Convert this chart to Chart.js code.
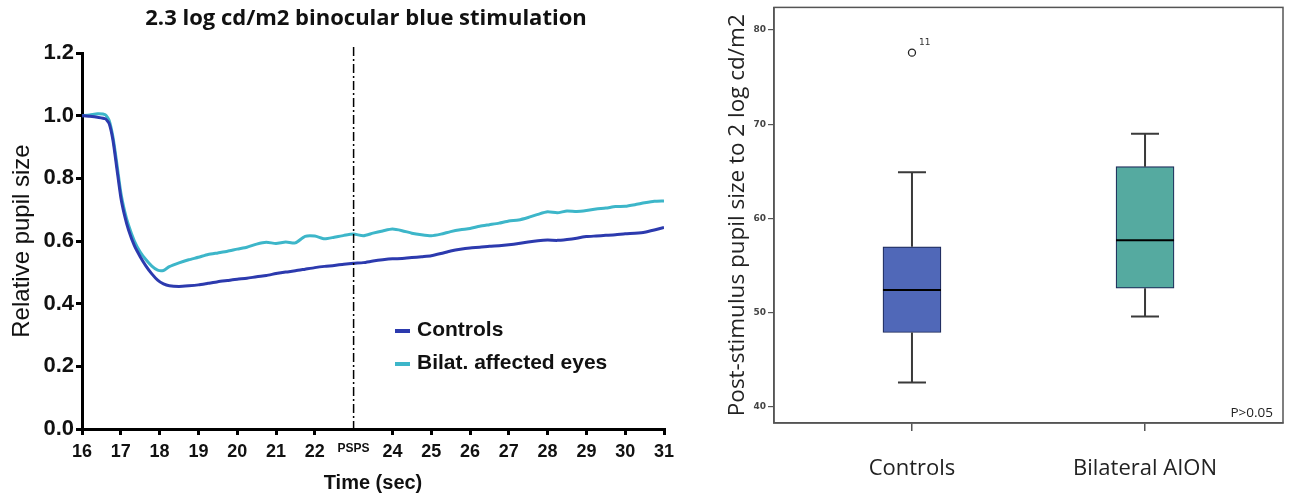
<!DOCTYPE html>
<html>
<head>
<meta charset="utf-8">
<script src="https://cdn.jsdelivr.net/npm/chart.js@4.4.0/dist/chart.umd.min.js"></script>
<style>
    body { margin: 0; background: #fff; }
    #left { position: absolute; left: 0; top: 0; width: 690px; height: 497px; }
    #right { position: absolute; left: 690px; top: 0; width: 600px; height: 497px; }
</style>
</head>
<body>
<div id="left"><canvas id="pupilChart"></canvas></div>
<div id="right"><canvas id="boxChart"></canvas></div>
<script>
// Left: pupil response over time
const times = [16.0, 16.2, 16.4, 16.6, 16.7, 16.8, 16.9, 17.0, 17.1, 17.2, 17.35, 17.5, 17.65, 17.8, 17.95, 18.1, 18.25,
    18.5, 18.75, 19.0, 19.25, 19.5, 19.75, 20.0, 20.25, 20.5, 20.75, 21.0, 21.25, 21.5, 21.75, 22.0, 22.25, 22.5, 22.75,
    23.0, 23.25, 23.5, 23.75, 24.0, 24.25, 24.5, 24.75, 25.0, 25.25, 25.5, 25.75, 26.0, 26.25, 26.5, 26.75,
    27.0, 27.25, 27.5, 27.75, 28.0, 28.25, 28.5, 28.75, 29.0, 29.25, 29.5, 29.75, 30.0, 30.25, 30.5, 30.75, 31.0];
const controls = [1.00, 0.998, 0.995, 0.99, 0.975, 0.92, 0.83, 0.74, 0.68, 0.635, 0.585, 0.55, 0.52, 0.495, 0.475, 0.463, 0.457,
    0.455, 0.457, 0.46, 0.465, 0.47, 0.474, 0.478, 0.481, 0.486, 0.49, 0.496, 0.501, 0.505, 0.51, 0.515, 0.519, 0.522, 0.526,
    0.529, 0.531, 0.536, 0.54, 0.543, 0.544, 0.547, 0.55, 0.553, 0.56, 0.568, 0.574, 0.578, 0.58, 0.583, 0.585,
    0.588, 0.592, 0.597, 0.601, 0.603, 0.602, 0.605, 0.609, 0.614, 0.616, 0.618, 0.62, 0.623, 0.625, 0.628, 0.635, 0.643];
const bilateral = [1.00, 1.002, 1.006, 1.003, 0.985, 0.93, 0.845, 0.755, 0.695, 0.65, 0.60, 0.565, 0.54, 0.52, 0.507, 0.506, 0.518,
    0.53, 0.54, 0.548, 0.557, 0.562, 0.567, 0.574, 0.58, 0.59, 0.596, 0.592, 0.597, 0.594, 0.615, 0.616, 0.607, 0.612, 0.618,
    0.622, 0.617, 0.625, 0.632, 0.638, 0.633, 0.625, 0.62, 0.617, 0.622, 0.63, 0.636, 0.64, 0.647, 0.652, 0.657,
    0.664, 0.667, 0.675, 0.685, 0.693, 0.69, 0.696, 0.694, 0.697, 0.702, 0.705, 0.71, 0.711, 0.716, 0.722, 0.727, 0.728];
const pspsTime = 23;

// Right: box plot summaries
const groups = ['Controls', 'Bilateral AION'];
const whiskerLow = [42.6, 49.6];
const boxQ1 = [47.9, 52.6];
const boxMedian = [52.4, 57.7];
const boxQ3 = [57.0, 65.5];
const whiskerHigh = [64.9, 69.0];
const outliers = [{ group: 0, value: 77.6, label: '11' }];
const boxColors = ['#5068B8', '#55AAA0'];

Chart.defaults.animation = false;

const arial = '"Liberation Sans", Arial, sans-serif';
const toXY = (arr) => arr.map((v, i) => ({ x: times[i], y: v }));

// title sits over the plot area, not the whole canvas
const leftTitle = {
    id: 'leftTitle',
    afterDraw(chart) {
        const { ctx } = chart;
        ctx.save();
        ctx.font = 'bold 22px "Open Sans", sans-serif';
        ctx.fillStyle = '#111';
        ctx.textAlign = 'center';
        ctx.textBaseline = 'middle';
        ctx.fillText('2.3 log cd/m2 binocular blue stimulation', 366, 19);
        ctx.restore();
    }
};

const pspsLine = {
    id: 'pspsLine',
    afterDatasetsDraw(chart) {
        const { ctx, chartArea, scales } = chart;
        const x = scales.x.getPixelForValue(pspsTime);
        ctx.save();
        ctx.strokeStyle = '#000';
        ctx.lineWidth = 1.5;
        ctx.setLineDash([9, 3, 2, 3]);
        ctx.beginPath();
        ctx.moveTo(x, chartArea.top - 6);
        ctx.lineTo(x, chartArea.bottom);
        ctx.stroke();
        ctx.restore();
    }
};

const insideLegend = {
    id: 'insideLegend',
    afterDraw(chart) {
        const { ctx, chartArea } = chart;
        const x0 = chartArea.left + 313;
        let y = 330;
        ctx.save();
        ctx.font = 'bold 21px ' + arial;
        ctx.textBaseline = 'middle';
        chart.data.datasets.forEach(ds => {
            ctx.strokeStyle = ds.borderColor;
            ctx.lineWidth = 4;
            ctx.beginPath();
            ctx.moveTo(x0, y + 1);
            ctx.lineTo(x0 + 15, y + 1);
            ctx.stroke();
            ctx.fillStyle = '#111';
            ctx.fillText(ds.label, x0 + 22, y);
            y += 33;
        });
        ctx.restore();
    }
};

new Chart(document.getElementById('pupilChart').getContext('2d'), {
    type: 'line',
    data: {
        datasets: [
            {
                label: 'Controls',
                data: toXY(controls),
                borderColor: '#2C3AAE',
                borderWidth: 3,
                pointRadius: 0,
                tension: 0.2
            },
            {
                label: 'Bilat. affected eyes',
                data: toXY(bilateral),
                borderColor: '#3DB6C9',
                borderWidth: 3,
                pointRadius: 0,
                tension: 0.2
            }
        ]
    },
    options: {
        responsive: true,
        maintainAspectRatio: false,
        layout: { padding: { top: 53, right: 26, left: 0, bottom: 0 } },
        plugins: {
            legend: { display: false },
            tooltip: { enabled: false },
            title: { display: false }
        },
        scales: {
            x: {
                type: 'linear',
                min: 16,
                max: 31,
                afterFit: (scale) => { scale.height = 68; },
                border: { color: '#000', width: 3 },
                grid: {
                    drawOnChartArea: false,
                    tickLength: 6,
                    lineWidth: 3,
                    color: (c) => (c.tick && c.tick.value === pspsTime) ? 'rgba(0,0,0,0)' : '#000'
                },
                ticks: {
                    stepSize: 1,
                    color: '#111',
                    padding: 6,
                    maxRotation: 0,
                    font: (c) => (c.tick && c.tick.value === pspsTime)
                        ? { family: arial, size: 12, weight: 'bold' }
                        : { family: arial, size: 18, weight: 'bold' },
                    callback: (v) => v === pspsTime ? 'PSPS' : v
                },
                title: {
                    display: true,
                    text: 'Time (sec)',
                    color: '#111',
                    font: { family: arial, size: 20, weight: 'bold' },
                    padding: { top: 0, bottom: 2 }
                }
            },
            y: {
                min: 0,
                max: 1.2,
                afterFit: (scale) => { scale.width = 82; },
                border: { color: '#000', width: 3 },
                grid: { drawOnChartArea: false, tickLength: 6, lineWidth: 3, color: '#000' },
                ticks: {
                    stepSize: 0.2,
                    color: '#111',
                    padding: 2,
                    font: { family: arial, size: 22, weight: 'bold' },
                    callback: (v) => v.toFixed(1)
                },
                title: {
                    display: true,
                    text: 'Relative pupil size',
                    color: '#111',
                    font: { family: arial, size: 24 },
                    padding: { top: 8, bottom: 0 }
                }
            }
        }
    },
    plugins: [leftTitle, pspsLine, insideLegend]
});

// Box plot extras: whiskers, medians, outlier labels, frame
const boxExtras = {
    id: 'boxExtras',
    afterDatasetsDraw(chart) {
        const { ctx, chartArea, scales } = chart;
        const { x, y } = scales;
        ctx.save();
        groups.forEach((g, i) => {
            const xp = x.getPixelForValue(i);
            ctx.strokeStyle = '#3a3a3a';
            ctx.lineWidth = 2;
            ctx.beginPath();
            ctx.moveTo(xp, y.getPixelForValue(boxQ3[i]));
            ctx.lineTo(xp, y.getPixelForValue(whiskerHigh[i]));
            ctx.moveTo(xp, y.getPixelForValue(boxQ1[i]));
            ctx.lineTo(xp, y.getPixelForValue(whiskerLow[i]));
            ctx.moveTo(xp - 14, y.getPixelForValue(whiskerHigh[i]));
            ctx.lineTo(xp + 14, y.getPixelForValue(whiskerHigh[i]));
            ctx.moveTo(xp - 14, y.getPixelForValue(whiskerLow[i]));
            ctx.lineTo(xp + 14, y.getPixelForValue(whiskerLow[i]));
            ctx.stroke();
            ctx.strokeStyle = '#000';
            ctx.lineWidth = 2;
            ctx.beginPath();
            ctx.moveTo(xp - 29, y.getPixelForValue(boxMedian[i]));
            ctx.lineTo(xp + 29, y.getPixelForValue(boxMedian[i]));
            ctx.stroke();
        });
        ctx.fillStyle = '#333';
        ctx.font = '9px "DejaVu Sans", sans-serif';
        outliers.forEach(o => {
            ctx.fillText(o.label, x.getPixelForValue(o.group) + 7, y.getPixelForValue(o.value) - 8);
        });
        ctx.font = '13.5px "Open Sans", sans-serif';
        ctx.textAlign = 'right';
        ctx.textBaseline = 'middle';
        ctx.fillStyle = '#222';
        ctx.fillText('P>0.05', chartArea.right - 10, chartArea.bottom - 10);
        ctx.strokeStyle = '#555';
        ctx.lineWidth = 1.5;
        ctx.strokeRect(chartArea.left, chartArea.top, chartArea.right - chartArea.left, chartArea.bottom - chartArea.top);
        ctx.restore();
    }
};

new Chart(document.getElementById('boxChart').getContext('2d'), {
    type: 'bar',
    data: {
        datasets: [
            {
                label: 'IQR',
                data: groups.map((g, i) => ({ x: i, y: [boxQ1[i], boxQ3[i]] })),
                backgroundColor: boxColors,
                borderColor: '#1d2a5a',
                borderWidth: 1.2,
                borderSkipped: false,
                barThickness: 58
            },
            {
                type: 'scatter',
                label: 'Outliers',
                data: outliers.map(o => ({ x: o.group, y: o.value })),
                pointRadius: 3.5,
                pointBackgroundColor: '#fff',
                pointBorderColor: '#222',
                pointBorderWidth: 1.3
            }
        ]
    },
    options: {
        responsive: true,
        maintainAspectRatio: false,
        layout: { padding: { top: 4, right: 7, left: 0, bottom: 0 } },
        plugins: {
            legend: { display: false },
            tooltip: { enabled: false }
        },
        scales: {
            x: {
                type: 'linear',
                min: -0.592,
                max: 1.592,
                offset: false,
                afterFit: (scale) => { scale.height = 74; },
                afterBuildTicks: (scale) => { scale.ticks = groups.map((g, i) => ({ value: i })); },
                border: { color: '#555', width: 1.5 },
                grid: { offset: false, drawOnChartArea: false, tickLength: 8, color: '#555', lineWidth: 1.5 },
                ticks: {
                    color: '#222',
                    padding: 25,
                    maxRotation: 0,
                    font: { family: '"Open Sans", sans-serif', size: 22 },
                    callback: (v) => groups[v]
                }
            },
            y: {
                min: 38.3,
                max: 82.4,
                afterFit: (scale) => { scale.width = 84; },
                border: { color: '#555', width: 1.5 },
                grid: { drawOnChartArea: false, tickLength: 6, color: '#555', lineWidth: 1.2 },
                ticks: {
                    stepSize: 10,
                    includeBounds: false,
                    color: '#444',
                    padding: 2,
                    font: { family: '"DejaVu Sans", sans-serif', size: 9, weight: 'bold' }
                },
                title: {
                    display: true,
                    text: 'Post-stimulus pupil size to 2 log cd/m2',
                    color: '#222',
                    font: { family: '"Open Sans", sans-serif', size: 22.5 },
                    padding: { top: 34, bottom: 0 }
                }
            }
        }
    },
    plugins: [boxExtras]
});
</script>
</body>
</html>
